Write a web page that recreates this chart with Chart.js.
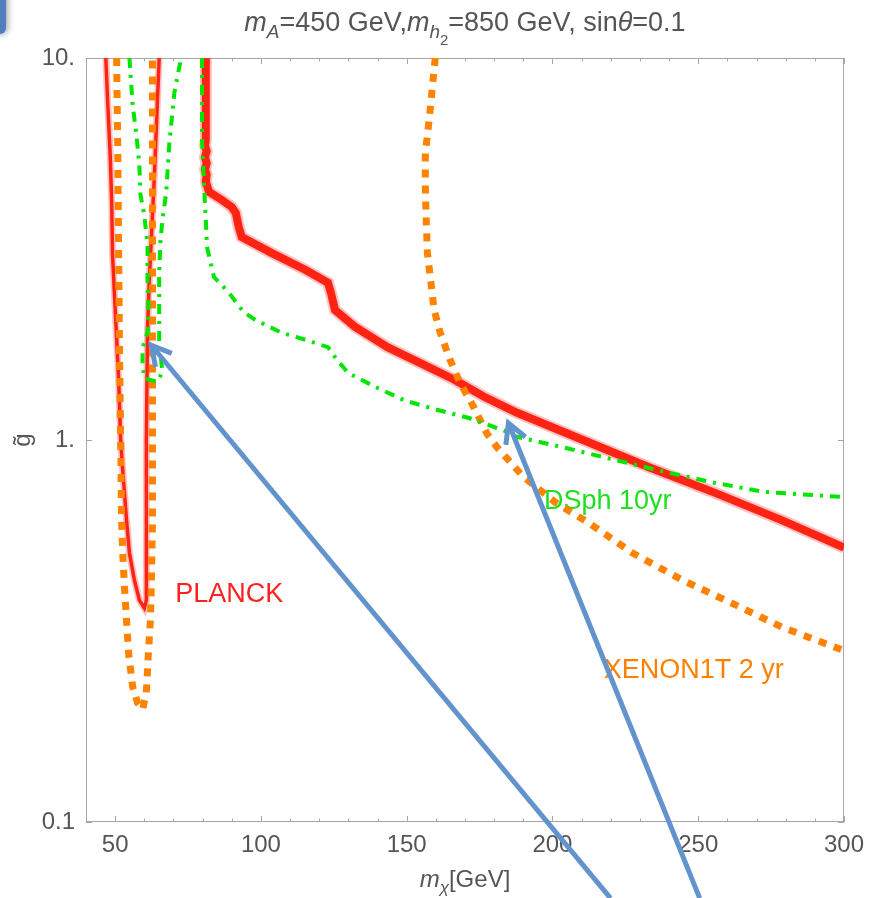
<!DOCTYPE html>
<html>
<head>
<meta charset="utf-8">
<title>Relic density and detection limits</title>
<script src="https://cdn.jsdelivr.net/npm/chart.js@4.4.1/dist/chart.umd.min.js"></script>
<style>
  html, body { margin: 0; padding: 0; background: #fff; }
  #plot { display: block; }
</style>
</head>
<body>
<canvas id="plot" width="873" height="898"></canvas>
<script>
// axis ticks
const xTicks = [50, 100, 150, 200, 250, 300];
const xTickLabels = ['50', '100', '150', '200', '250', '300'];
const yTicks = [0.1, 1, 10];
const yTickLabels = ['0.1', '1.', '10.'];

// PLANCK relic density, Higgs funnel part (m_chi [GeV] vs g~)
const planckFunnelX = [46.8, 47.4, 48.3, 48.8, 49.1, 50.2, 51.2, 51.9, 52.6, 53.9, 54.9, 56.6, 58.3, 60.0, 60.7, 60.7, 60.7, 61.1, 61.7, 62.4, 63.4, 64.1, 65.1];
const planckFunnelY = [10, 7.77, 5.57, 4.25, 3.05, 2.06, 1.44, 1.0, 0.835, 0.617, 0.506, 0.43, 0.381, 0.363, 0.381, 0.697, 1.0, 1.94, 2.62, 3.34, 4.8, 6.48, 10];

// PLANCK relic density, main branch
const planckMainX = [81.1, 81.1, 80.8, 81.4, 80.8, 81.4, 80.8, 81.4, 81.1, 82.2, 86.6, 90.0, 91.4, 92.4, 93.4, 103.6, 115.2, 123.0, 124.0, 125.4, 132.2, 143.4, 154.7, 166.2, 176.4, 187.7, 210.5, 232.9, 255.8, 278.6, 300];
const planckMainY = [10, 6.1, 5.9, 5.7, 5.5, 5.3, 5.1, 4.95, 4.75, 4.46, 4.25, 4.07, 3.93, 3.61, 3.40, 3.09, 2.79, 2.58, 2.43, 2.19, 1.98, 1.75, 1.59, 1.44, 1.30, 1.18, 1.0, 0.85, 0.727, 0.617, 0.523];

// XENON1T 2 yr, funnel part
const xenonFunnelX = [50.5, 50.9, 51.2, 51.5, 51.9, 52.2, 52.6, 53.2, 53.9, 54.6, 56.0, 57.7, 59.4, 60.7, 61.4, 62.1, 62.4, 62.8, 62.8, 62.8, 62.8, 62.8];
const xenonFunnelY = [10, 5.74, 3.05, 1.72, 1.0, 0.617, 0.506, 0.412, 0.338, 0.277, 0.226, 0.205, 0.197, 0.218, 0.277, 0.338, 0.412, 0.617, 1.0, 2.33, 5.74, 10];

// XENON1T 2 yr, main branch
const xenonMainX = [159.8, 157.7, 156.4, 156.4, 156.7, 157.1, 158.1, 159.4, 161.5, 164.9, 168.3, 173.0, 177.5, 180.9, 190.1, 201.3, 212.5, 227.5, 244.5, 261.5, 278.6, 300];
const xenonMainY = [10, 6.88, 5.64, 4.60, 3.77, 3.09, 2.67, 2.19, 1.91, 1.62, 1.41, 1.22, 1.04, 0.959, 0.800, 0.684, 0.606, 0.506, 0.430, 0.374, 0.324, 0.281];

// DSph 10yr, funnel contour
const dsphFunnelX = [54.9, 56.0, 57.3, 58.3, 58.7, 60.0, 61.1, 61.1, 61.4, 61.1, 59.4, 59.4, 60.0, 64.5, 66.2, 65.1, 65.1, 65.1, 65.5, 66.2, 67.5, 68.6, 70.3, 72.6];
const dsphFunnelY = [10, 7.53, 6.29, 5.25, 4.38, 3.88, 3.24, 2.62, 2.23, 1.91, 1.74, 1.57, 1.45, 1.42, 1.51, 1.80, 2.33, 2.74, 3.28, 3.77, 4.43, 5.99, 8.10, 10];

// DSph 10yr, main branch
const dsphMainX = [79.8, 79.8, 80.5, 81.1, 81.5, 83.9, 89.0, 94.1, 98.2, 107.0, 115.2, 123.0, 125.4, 129.8, 139.0, 149.2, 160.4, 171.7, 183.2, 187.7, 204.7, 221.7, 238.7, 255.8, 272.8, 300];
const dsphMainY = [10, 6.10, 4.60, 3.77, 3.20, 2.67, 2.43, 2.16, 2.06, 1.91, 1.83, 1.75, 1.65, 1.50, 1.38, 1.27, 1.20, 1.14, 1.06, 1.02, 0.953, 0.886, 0.825, 0.772, 0.731, 0.709];

// the two pointer arrows (tail below the frame, tip on the curves)
const arrowTailX = [219.9, 250.5];
const arrowTailY = [0.0632, 0.0632];
const arrowTipX = [62.4, 184.9];
const arrowTipY = [1.77, 1.108];

// curve labels
const noteText = ['PLANCK', 'DSph 10yr', 'XENON1T 2 yr'];
const noteX = [70.6, 197.1, 217.6];
const noteY = [0.377, 0.660, 0.238];
const noteColor = ['#ff2020', '#1ee01e', '#ff8000'];

const FONT = "'Liberation Sans', Arial, sans-serif";
const RED = 'rgb(255,35,20)';
const ORANGE = '#ff8200';
const GREEN = '#00e600';
const BLUE = '#6393cd';

function pts(xs, ys) {
    return xs.map((x, i) => ({ x: x, y: ys[i] }));
}

function fontFor(p, size) {
    return (p.it ? 'italic ' : '') + Math.round(size * (p.s || 1)) + 'px ' + FONT;
}

// draws text with sub/superscripts, centred on cx
function drawRich(ctx, parts, cx, baseline, size) {
    let w = 0;
    parts.forEach(p => { ctx.font = fontFor(p, size); w += ctx.measureText(p.t).width; });
    let x = cx - w / 2;
    parts.forEach(p => {
        ctx.font = fontFor(p, size);
        ctx.fillText(p.t, x, baseline + (p.dy || 0) * size);
        x += ctx.measureText(p.t).width;
    });
}

const titleParts = [
    { t: 'm', it: true }, { t: 'A', it: true, s: 0.72, dy: 0.25 },
    { t: '=450 GeV,' },
    { t: 'm', it: true }, { t: 'h', it: true, s: 0.72, dy: 0.25 }, { t: '2', s: 0.55, dy: 0.5 },
    { t: '=850 GeV, sin' }, { t: 'θ', it: true }, { t: '=0.1' }
];
const xTitleParts = [{ t: 'm', it: true }, { t: 'χ', it: true, s: 0.72, dy: 0.25 }, { t: '[GeV]' }];

const decor = {
    id: 'decor',
    beforeDraw(chart) {
        const ctx = chart.ctx;
        ctx.save();
        ctx.fillStyle = '#fff';
        ctx.fillRect(0, 0, chart.width, chart.height);
        // bit of the slide box peeking in at the top left
        ctx.shadowColor = 'rgba(0,0,0,0.35)';
        ctx.shadowBlur = 6;
        ctx.shadowOffsetX = 2;
        ctx.fillStyle = '#4f7fbf';
        ctx.beginPath();
        ctx.roundRect(-14, -14, 20, 48, 6);
        ctx.fill();
        ctx.restore();
    },
    beforeDatasetsDraw(chart) {
        const ctx = chart.ctx;
        const a = chart.chartArea;
        const xs = chart.scales.x, ys = chart.scales.y;
        ctx.save();
        // frame
        ctx.strokeStyle = '#a6a6a6';
        ctx.lineWidth = 1;
        ctx.strokeRect(a.left + 0.5, a.top + 0.5, a.right - a.left - 1, a.bottom - a.top - 1);
        // inward ticks
        ctx.beginPath();
        for (let v = 40; v <= 300; v += 10) {
            const px = Math.round(xs.getPixelForValue(v)) + 0.5;
            const len = xTicks.includes(v) ? 6 : 3.5;
            ctx.moveTo(px, a.bottom); ctx.lineTo(px, a.bottom - len);
            ctx.moveTo(px, a.top); ctx.lineTo(px, a.top + len);
        }
        yTicks.forEach(v => {
            const py = Math.round(ys.getPixelForValue(v)) + 0.5;
            ctx.moveTo(a.left, py); ctx.lineTo(a.left + 6, py);
            ctx.moveTo(a.right, py); ctx.lineTo(a.right - 6, py);
        });
        ctx.stroke();
        // curve labels (under the arrows)
        ctx.textAlign = 'left';
        ctx.textBaseline = 'alphabetic';
        ctx.font = '27px ' + FONT;
        noteText.forEach((t, i) => {
            ctx.fillStyle = noteColor[i];
            ctx.fillText(t, xs.getPixelForValue(noteX[i]), ys.getPixelForValue(noteY[i]));
        });
        ctx.restore();
    },
    afterDatasetsDraw(chart) {
        const ctx = chart.ctx;
        const xs = chart.scales.x, ys = chart.scales.y;
        ctx.save();
        // arrow heads
        ctx.strokeStyle = BLUE;
        ctx.lineWidth = 5;
        ctx.lineJoin = 'miter';
        arrowTipX.forEach((tx, i) => {
            const x1 = xs.getPixelForValue(arrowTailX[i]), y1 = ys.getPixelForValue(arrowTailY[i]);
            const x2 = xs.getPixelForValue(tx), y2 = ys.getPixelForValue(arrowTipY[i]);
            const ang = Math.atan2(y1 - y2, x1 - x2);
            const L = 22, spread = 0.5;
            ctx.beginPath();
            ctx.moveTo(x2 + L * Math.cos(ang - spread), y2 + L * Math.sin(ang - spread));
            ctx.lineTo(x2, y2);
            ctx.lineTo(x2 + L * Math.cos(ang + spread), y2 + L * Math.sin(ang + spread));
            ctx.stroke();
        });
        // title and axis titles
        const a = chart.chartArea;
        const cx = (a.left + a.right) / 2;
        ctx.fillStyle = '#555';
        ctx.textAlign = 'left';
        ctx.textBaseline = 'alphabetic';
        drawRich(ctx, titleParts, cx, 31, 27);
        drawRich(ctx, xTitleParts, cx, 887, 24);
        ctx.translate(30, (a.top + a.bottom) / 2);
        ctx.rotate(-Math.PI / 2);
        ctx.textAlign = 'center';
        ctx.font = '24px ' + FONT;
        ctx.fillText('g\u0303', 0, 0);
        ctx.restore();
    }
};

const curveStyle = { showLine: true, pointRadius: 0, fill: false, tension: 0 };

new Chart(document.getElementById('plot'), {
    type: 'scatter',
    data: {
        datasets: [
            // PLANCK (soft halo under a solid core)
            { ...curveStyle, data: pts(planckFunnelX, planckFunnelY), borderColor: 'rgba(255,120,120,0.45)', borderWidth: 7, order: 9 },
            { ...curveStyle, data: pts(planckFunnelX, planckFunnelY), borderColor: RED, borderWidth: 3.5, order: 8 },
            { ...curveStyle, data: pts(planckMainX, planckMainY), borderColor: 'rgba(255,120,120,0.45)', borderWidth: 12, order: 7 },
            { ...curveStyle, data: pts(planckMainX, planckMainY), borderColor: RED, borderWidth: 8, order: 6 },
            // XENON1T, thick dotted
            { ...curveStyle, data: pts(xenonFunnelX, xenonFunnelY), borderColor: ORANGE, borderWidth: 7, borderDash: [8, 8], order: 5 },
            { ...curveStyle, data: pts(xenonMainX, xenonMainY), borderColor: ORANGE, borderWidth: 7, borderDash: [8, 8], order: 4 },
            // DSph, dot-dashed
            { ...curveStyle, data: pts(dsphFunnelX, dsphFunnelY), borderColor: GREEN, borderWidth: 4, borderDash: [10, 7, 3, 7], order: 3 },
            { ...curveStyle, data: pts(dsphMainX, dsphMainY), borderColor: GREEN, borderWidth: 4, borderDash: [10, 7, 3, 7], order: 2 },
            // arrows
            { ...curveStyle, data: [{ x: arrowTailX[0], y: arrowTailY[0] }, { x: arrowTipX[0], y: arrowTipY[0] }], borderColor: BLUE, borderWidth: 5, clip: false, order: 1 },
            { ...curveStyle, data: [{ x: arrowTailX[1], y: arrowTailY[1] }, { x: arrowTipX[1], y: arrowTipY[1] }], borderColor: BLUE, borderWidth: 5, clip: false, order: 0 }
        ]
    },
    options: {
        responsive: false,
        animation: false,
        events: [],
        layout: { padding: { top: 58, right: 23, left: 0, bottom: 0 } },
        plugins: {
            legend: { display: false },
            title: { display: false },
            tooltip: { enabled: false }
        },
        scales: {
            x: {
                type: 'linear',
                min: 40,
                max: 300,
                afterBuildTicks: s => { s.ticks = xTicks.map(v => ({ value: v })); },
                afterFit: s => { s.height = 76; },
                grid: { display: false, drawTicks: false },
                border: { display: false },
                ticks: {
                    callback: v => xTickLabels[xTicks.indexOf(v)],
                    font: { family: FONT, size: 24 },
                    color: '#555',
                    padding: 9,
                    maxRotation: 0,
                    autoSkip: false
                }
            },
            y: {
                type: 'logarithmic',
                min: 0.1,
                max: 10,
                afterBuildTicks: s => { s.ticks = yTicks.map(v => ({ value: v })); },
                afterFit: s => { s.width = 86; },
                grid: { display: false, drawTicks: false },
                border: { display: false },
                ticks: {
                    callback: v => yTickLabels[yTicks.indexOf(v)],
                    font: { family: FONT, size: 24 },
                    color: '#555',
                    padding: 11,
                    autoSkip: false
                }
            }
        }
    },
    plugins: [decor]
});
</script>
</body>
</html>
